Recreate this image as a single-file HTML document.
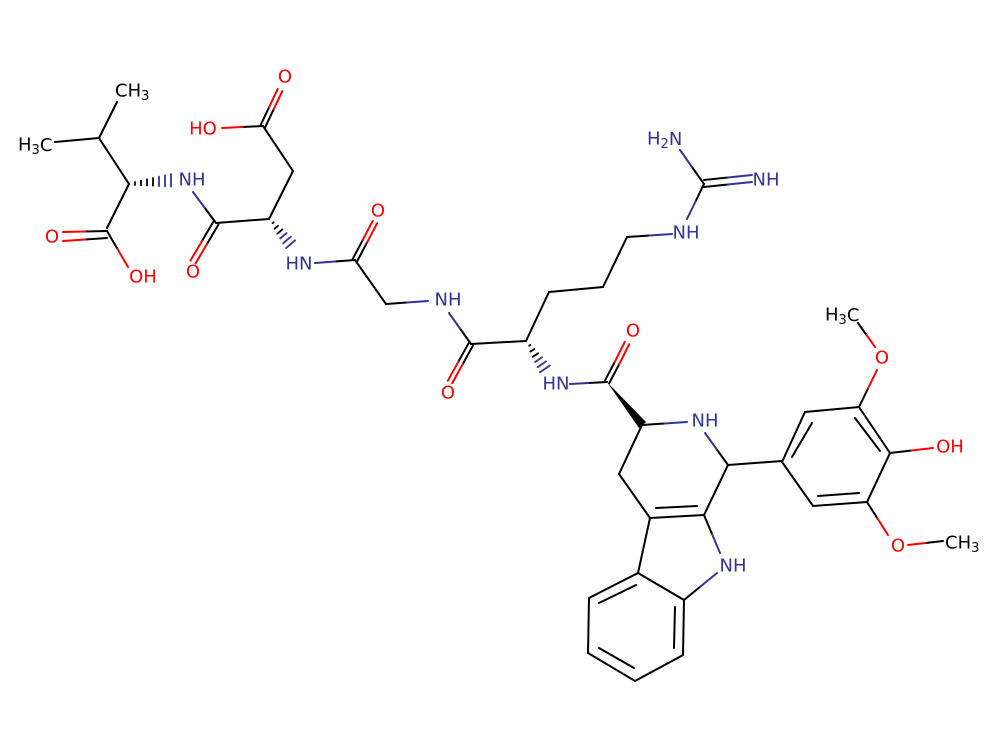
<!DOCTYPE html>
<html><head><meta charset="utf-8"><style>
html,body{margin:0;padding:0;background:#fff;}
svg{display:block;}
text{font-family:"DejaVu Sans","Liberation Sans",sans-serif;font-size:18px;dominant-baseline:central;}
.n{fill:#33339a;} .o{fill:#ff0000;} .c{fill:#000;}
</style></head><body>
<svg width="1000" height="750" viewBox="0 0 1000 750" xmlns="http://www.w3.org/2000/svg">
<g stroke-width="2" stroke-linecap="round" fill="none">
<g stroke="#000">
<line x1="55" y1="142" x2="99" y2="138"/>
<line x1="99" y1="138" x2="117" y2="102"/>
<line x1="99" y1="138" x2="129" y2="184"/>
<line x1="129" y1="184" x2="107" y2="228"/>
<line x1="107" y1="231" x2="85" y2="231.5"/><line x1="107" y1="238" x2="85" y2="239.5"/>
<line x1="107" y1="231" x2="117.5" y2="249"/>
<line x1="204.5" y1="207.5" x2="216" y2="223"/>
<line x1="213.5" y1="221.5" x2="202" y2="241"/><line x1="218.5" y1="224.5" x2="207" y2="244"/>
<line x1="216" y1="223" x2="269" y2="219"/>
<line x1="269" y1="219" x2="293" y2="171"/>
<line x1="293" y1="171" x2="263" y2="126"/>
<line x1="263" y1="126" x2="242.5" y2="127"/>
<line x1="260.7" y1="124.9" x2="269.2" y2="106.9"/><line x1="265.3" y1="127.1" x2="273.8" y2="109.1"/>
<line x1="335" y1="261.5" x2="355" y2="260"/>
<line x1="352.8" y1="258.8" x2="362.8" y2="239.8"/><line x1="357.2" y1="261.2" x2="367.2" y2="242.2"/>
<line x1="355" y1="260" x2="386" y2="304"/>
<line x1="386" y1="304" x2="407" y2="302.5"/>
<line x1="460" y1="328.5" x2="471" y2="344"/>
<line x1="468.8" y1="342.8" x2="458.3" y2="361.8"/><line x1="473.2" y1="345.2" x2="462.7" y2="364.2"/>
<line x1="471" y1="344" x2="526" y2="341"/>
<line x1="526" y1="341" x2="549" y2="292"/>
<line x1="549" y1="292" x2="603" y2="287"/>
<line x1="603" y1="287" x2="627" y2="237"/>
<line x1="627" y1="237" x2="649.5" y2="235.5"/>
<line x1="695.5" y1="201.5" x2="704" y2="184"/>
<line x1="704" y1="184" x2="692" y2="167"/>
<line x1="704" y1="180" x2="728" y2="177.5"/><line x1="704" y1="187" x2="728" y2="184.5"/>
<line x1="588.5" y1="383" x2="607" y2="382"/>
<line x1="604.8" y1="380.8" x2="614.8" y2="361.8"/><line x1="609.2" y1="383.2" x2="619.2" y2="364.2"/>
<line x1="642" y1="425" x2="664.5" y2="423.5"/>
<line x1="716.5" y1="449" x2="728" y2="465"/>
<line x1="728" y1="465" x2="782" y2="461"/>
<line x1="642" y1="425" x2="619" y2="474"/>
<line x1="619" y1="474" x2="650" y2="518"/>
<line x1="650" y1="518" x2="704" y2="515"/>
<line x1="656" y1="508" x2="697" y2="506"/>
<line x1="728" y1="465" x2="704" y2="515"/>
<line x1="704" y1="515" x2="712" y2="534"/>
<line x1="700.5" y1="586.5" x2="684" y2="600"/>
<line x1="650" y1="518" x2="638" y2="573"/>
<polygon points="638,573 589,598 588,653 635,681 683,655 684,600"/>
<line x1="599" y1="603" x2="636" y2="585"/>
<line x1="599" y1="648" x2="634" y2="668"/>
<line x1="675" y1="607" x2="674" y2="648"/>
<polygon points="782,462 805,412 859,407 890,453 867,502 813,506"/>
<line x1="792" y1="457" x2="812" y2="423"/>
<line x1="855" y1="418" x2="880" y2="451"/>
<line x1="818" y1="496" x2="859" y2="493"/>
<line x1="859" y1="407" x2="868" y2="388.5"/>
<line x1="866.5" y1="335" x2="858" y2="323"/>
<line x1="890" y1="453" x2="911.5" y2="450.5"/>
<line x1="867" y1="502" x2="877.5" y2="518.5"/>
<line x1="925.5" y1="543" x2="943" y2="541"/>
</g>
<g stroke="#ff0000">
<line x1="85" y1="231.5" x2="63" y2="232"/><line x1="85" y1="239.5" x2="63" y2="241"/>
<line x1="117.5" y1="249" x2="128" y2="267"/>
<line x1="202" y1="241" x2="190.5" y2="260.5"/><line x1="207" y1="244" x2="195.5" y2="263.5"/>
<line x1="242.5" y1="127" x2="222" y2="128"/>
<line x1="269.2" y1="106.9" x2="277.7" y2="88.9"/><line x1="273.8" y1="109.1" x2="282.3" y2="91.1"/>
<line x1="362.8" y1="239.8" x2="372.8" y2="220.8"/><line x1="367.2" y1="242.2" x2="377.2" y2="223.2"/>
<line x1="458.3" y1="361.8" x2="447.8" y2="380.8"/><line x1="462.7" y1="364.2" x2="452.2" y2="383.2"/>
<line x1="614.8" y1="361.8" x2="624.8" y2="341.8"/><line x1="619.2" y1="364.2" x2="629.2" y2="344.2"/>
<line x1="868" y1="388.5" x2="877" y2="370"/>
<line x1="875" y1="347" x2="866.5" y2="335"/>
<line x1="911.5" y1="450.5" x2="933" y2="448"/>
<line x1="877.5" y1="518.5" x2="888" y2="535"/>
<line x1="908" y1="545" x2="925.5" y2="543"/>
</g>
<g stroke="#33339a">
<line x1="193" y1="192" x2="204.5" y2="207.5"/>
<line x1="315" y1="263" x2="335" y2="261.5"/>
<line x1="407" y1="302.5" x2="428" y2="301"/>
<line x1="449" y1="313" x2="460" y2="328.5"/>
<line x1="649.5" y1="235.5" x2="672" y2="234"/>
<line x1="687" y1="219" x2="695.5" y2="201.5"/>
<line x1="692" y1="167" x2="680" y2="150"/>
<line x1="728" y1="177.5" x2="752" y2="175"/><line x1="728" y1="184.5" x2="752" y2="182"/>
<line x1="570" y1="384" x2="588.5" y2="383"/>
<line x1="664.5" y1="423.5" x2="687" y2="422"/>
<line x1="705" y1="433" x2="716.5" y2="449"/>
<line x1="712" y1="534" x2="720" y2="553"/>
<line x1="717" y1="573" x2="700.5" y2="586.5"/>
</g>
<!-- hashes -->
<g stroke="#000" stroke-width="1.8">
<line x1="135" y1="182" x2="135" y2="185"/>
<line x1="141" y1="180.7" x2="141" y2="185.3"/>
<line x1="147" y1="179.3" x2="147" y2="185.5"/>
<line x1="153" y1="178" x2="153" y2="185.8"/>
<line x1="272.6" y1="223.2" x2="273.7" y2="222.2"/>
<line x1="274.4" y1="228.8" x2="278" y2="225.8"/>
<line x1="277.3" y1="233.7" x2="282.3" y2="229.5"/>
<line x1="529.2" y1="345.7" x2="530.4" y2="344.9"/>
<line x1="530.3" y1="351.6" x2="534.3" y2="349"/>
<line x1="532.8" y1="356.8" x2="538.2" y2="353.2"/>
</g>
<g stroke="#33339a" stroke-width="1.8">
<line x1="159" y1="176.7" x2="159" y2="186.1"/>
<line x1="165" y1="175.4" x2="165" y2="186.4"/>
<line x1="171" y1="174" x2="171" y2="186.6"/>
<line x1="280.2" y1="238.5" x2="286.6" y2="233.1"/>
<line x1="283.1" y1="243.3" x2="290.9" y2="236.7"/>
<line x1="286" y1="248.1" x2="295.2" y2="240.3"/>
<line x1="535.1" y1="362" x2="542.1" y2="357.2"/>
<line x1="537.6" y1="367.2" x2="546" y2="361.4"/>
<line x1="539.9" y1="372.3" x2="549.9" y2="365.5"/>
</g>
</g>
<polygon points="607,382 639,428 646,422" fill="#000"/>
<text class="c" x="115" y="91">CH<tspan font-size="13" dy="5">3</tspan></text>
<text class="c" x="18" y="145">H<tspan font-size="13" dy="5">3</tspan><tspan dy="-5">C</tspan></text>
<text class="n" x="192" y="180" text-anchor="middle">NH</text>
<text class="o" x="52" y="237" text-anchor="middle">O</text>
<text class="o" x="143" y="277" text-anchor="middle">OH</text>
<text class="o" x="193" y="272" text-anchor="middle">O</text>
<text class="o" x="203" y="129" text-anchor="middle">HO</text>
<text class="o" x="285" y="77" text-anchor="middle">O</text>
<text class="o" x="378" y="211" text-anchor="middle">O</text>
<text class="n" x="299" y="264" text-anchor="middle">HN</text>
<text class="n" x="448" y="300" text-anchor="middle">NH</text>
<text class="o" x="448" y="393" text-anchor="middle">O</text>
<text class="n" x="556" y="384" text-anchor="middle">HN</text>
<text class="o" x="633" y="331" text-anchor="middle">O</text>
<text class="n" x="686" y="233" text-anchor="middle">NH</text>
<text class="n" x="766" y="180" text-anchor="middle">NH</text>
<text class="n" x="647" y="139">H<tspan font-size="13" dy="5">2</tspan><tspan dy="-5">N</tspan></text>
<text class="n" x="705" y="421" text-anchor="middle">NH</text>
<text class="n" x="733" y="566" text-anchor="middle">NH</text>
<text class="c" x="825" y="315">H<tspan font-size="13" dy="5">3</tspan><tspan dy="-5">C</tspan></text>
<text class="o" x="882" y="358" text-anchor="middle">O</text>
<text class="o" x="950" y="447" text-anchor="middle">OH</text>
<text class="o" x="898" y="546" text-anchor="middle">O</text>
<text class="c" x="945" y="543">CH<tspan font-size="13" dy="5">3</tspan></text>
</svg>
</body></html>
